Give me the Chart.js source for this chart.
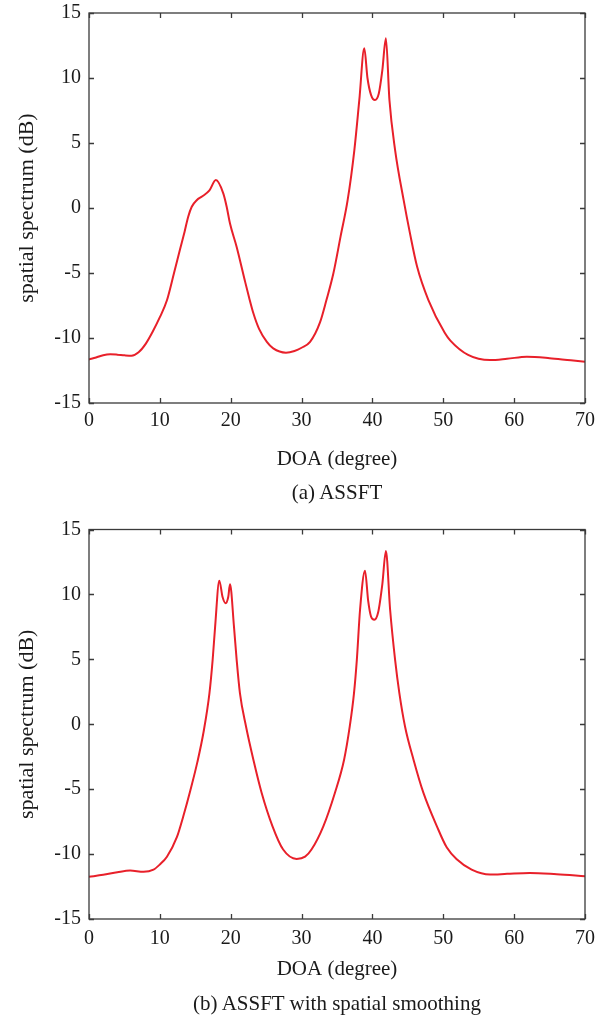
<!DOCTYPE html>
<html><head><meta charset="utf-8">
<script src="https://cdn.jsdelivr.net/npm/chart.js@4.4.1/dist/chart.umd.min.js"></script>
<style>
html,body{margin:0;padding:0;background:#fff;width:606px;height:1016px;overflow:hidden}
.box{position:absolute;left:0;width:606px;height:508px}
canvas{display:block}
.cap{position:absolute;left:137px;width:400px;text-align:center;font-family:'Liberation Serif','Times New Roman',serif;font-size:21px;line-height:24px;color:#1a1a1a;white-space:nowrap}
</style></head><body>
<div class="box" style="top:0"><canvas id="a" width="606" height="508"></canvas></div>
<div class="box" style="top:508px"><canvas id="b" width="606" height="508"></canvas></div>
<div class="cap" id="capA" style="top:480px"></div>
<div class="cap" id="capB" style="top:991px"></div>
<script>
// (a) ASSFT
const doaA  = [0,1,2,3,4,5,6,7,8,9,10,11,12,12.84,13.5,14,14.5,15.2,16,17,17.9,18.95,19.43,19.9,20.84,22.0,22.6,23.2,24,25.1,26,27.8,29,30,31.2,32.6,33.5,34.5,35.5,36.5,37.45,38.15,38.85,39.3,39.8,40.36,40.9,41.4,41.9,42.4,43.2,44.4,45.3,46.3,47.9,50.2,51,53.5,56.6,59,61.8,65,68,70];
const specA = [-11.65,-11.5,-11.32,-11.25,-11.28,-11.33,-11.36,-11.1,-10.45,-9.5,-8.4,-7.1,-5.0,-3.2,-1.8,-0.67,0.1,0.6,0.9,1.35,2.15,1.13,0.1,-1.2,-3.0,-5.6,-6.9,-8.1,-9.3,-10.3,-10.8,-11.13,-11.0,-10.75,-10.3,-8.8,-7.1,-5.0,-2.2,0.6,4.46,8.31,12.28,10.0,8.7,8.3,8.8,10.6,13.05,8.31,4.46,0.62,-1.95,-4.5,-7.08,-9.6,-10.2,-11.3,-11.7,-11.6,-11.44,-11.55,-11.72,-11.82];
// (b) ASSFT with spatial smoothing
const doaB  = [0,2,4,5.8,7.7,9.1,10,11,12.4,13.3,14.3,15.3,16.2,17.0,17.45,17.8,18.39,18.85,19.29,19.65,19.9,20.46,20.84,21.3,22.16,23.2,24.37,25.9,27.4,29.3,30.5,31.4,33.07,34.7,36.0,36.8,37.4,37.8,38.25,38.95,39.4,39.8,40.27,40.8,41.4,41.9,42.5,43.2,43.8,44.6,45.8,47.2,49.1,50.5,51.9,54,56.6,59,62.2,66,70];
const specB = [-11.75,-11.6,-11.4,-11.27,-11.37,-11.2,-10.8,-10.2,-8.7,-7.1,-5.1,-2.9,-0.5,2.4,4.96,7.52,11.06,9.8,9.32,9.8,10.78,7.52,4.96,2.4,-0.17,-2.73,-5.29,-7.86,-9.65,-10.37,-10.2,-9.65,-7.86,-5.29,-2.73,-0.17,2.4,4.96,8.8,11.83,9.5,8.3,8.04,8.6,10.8,13.35,8.8,4.96,2.4,-0.17,-2.73,-5.29,-7.86,-9.5,-10.4,-11.2,-11.58,-11.52,-11.45,-11.55,-11.7];

const xTicks = [0,10,20,30,40,50,60,70];
const yTicks = [-15,-10,-5,0,5,10,15];
const xTitle = 'DOA (degree)';
const yTitle = 'spatial spectrum (dB)';
const captions = ['(a) ASSFT', '(b) ASSFT with spatial smoothing'];

document.getElementById('capA').textContent = captions[0];
document.getElementById('capB').textContent = captions[1];

const FONT = "'Liberation Serif','Times New Roman',serif";
const TXT = '#1a1a1a';

const framePlugin = {
  id:'frame',
  afterDatasetsDraw(chart){
    const {ctx, chartArea:a, scales:{x,y}} = chart;
    ctx.save();
    ctx.strokeStyle = '#3a3a3a';
    ctx.lineWidth = 1.3;
    ctx.strokeRect(a.left, a.top, a.right-a.left, a.bottom-a.top);
    const L = 5;
    ctx.beginPath();
    x.ticks.forEach(t=>{
      const p = Math.round(x.getPixelForValue(t.value))+0.5;
      ctx.moveTo(p,a.bottom); ctx.lineTo(p,a.bottom-L);
      ctx.moveTo(p,a.top); ctx.lineTo(p,a.top+L);
    });
    y.ticks.forEach(t=>{
      const p = Math.round(y.getPixelForValue(t.value))+0.5;
      ctx.moveTo(a.left,p); ctx.lineTo(a.left+L,p);
      ctx.moveTo(a.right,p); ctx.lineTo(a.right-L,p);
    });
    ctx.stroke();
    ctx.restore();
  }
};

function make(id, xs, ys, opt){
  const pts = xs.map((v,i)=>({x:v, y:ys[i]}));
  return new Chart(document.getElementById(id), {
    type:'line',
    data:{datasets:[{data:pts, borderColor:'#e8202a', borderWidth:2, pointRadius:0, cubicInterpolationMode:'monotone', fill:false}]},
    options:{
      responsive:false, animation:false, devicePixelRatio:1,
      layout:{padding:{top:opt.top, right:21, left:0, bottom:opt.bottom}},
      plugins:{ legend:{display:false}, tooltip:{enabled:false}, title:{display:false} },
      scales:{
        x:{type:'linear', min:0, max:70,
          afterBuildTicks(s){ s.ticks = xTicks.map(v=>({value:v})); },
          afterFit(s){ s.height = opt.xh; },
          grid:{display:false, drawTicks:false}, border:{display:false},
          ticks:{color:TXT, font:{family:FONT, size:20}, padding:opt.xtp, maxRotation:0},
          title:{display:true, text:xTitle, color:TXT, font:{family:FONT, size:21}, padding:{top:2, bottom:2.5}}
        },
        y:{type:'linear', min:-15, max:15,
          afterBuildTicks(s){ s.ticks = yTicks.map(v=>({value:v})); },
          afterFit(s){ s.width = 89; },
          grid:{display:false, drawTicks:true, tickLength:8}, border:{display:false},
          ticks:{color:TXT, font:{family:FONT, size:20}, padding:0},
          title:{display:true, text:yTitle, color:TXT, font:{family:FONT, size:22}, padding:{top:13.8,bottom:0}}
        }
      }
    },
    plugins:[framePlugin]
  });
}

make('a', doaA, specA, {top:13, bottom:33, xh:72, xtp:6});
make('b', doaB, specB, {top:21.5, bottom:31, xh:66, xtp:7.5});
</script>
</body></html>
